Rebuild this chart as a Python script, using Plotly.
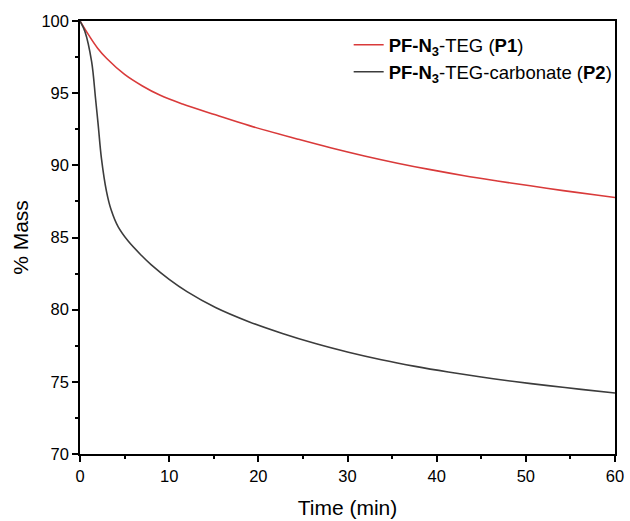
import plotly.graph_objects as go

# Data
t_p1 = [0, 1, 2, 3, 5, 7, 9, 11.5, 15.2, 19, 24.5, 28.2, 31.9, 35.6, 39.3, 43.1, 46.8, 50.5, 54.2, 57.9, 60]
m_p1 = [100, 99.0, 98.1, 97.4, 96.3, 95.5, 94.85, 94.25, 93.5, 92.75, 91.8, 91.2, 90.65, 90.15, 89.7, 89.28, 88.92, 88.58, 88.25, 87.94, 87.77]

t_p2 = [0, 0.56, 1.3, 1.74, 2.04, 2.4, 2.97, 3.5, 4.27, 5.4, 6.9, 8, 10, 12, 15.2, 19, 22.7, 26.4, 30.1, 33.8, 37.6, 41.3, 45, 48.7, 52.5, 56.2, 60]
m_p2 = [100, 99.26, 97.2, 94.65, 92.8, 90.5, 88.2, 86.9, 85.75, 84.75, 83.75, 83.1, 82.1, 81.25, 80.15, 79.15, 78.35, 77.65, 77.05, 76.53, 76.07, 75.68, 75.33, 75.02, 74.74, 74.48, 74.23]

name_p1 = "<b>PF-N<sub>3</sub></b>-TEG (<b>P1</b>)"
name_p2 = "<b>PF-N<sub>3</sub></b>-TEG-carbonate (<b>P2</b>)"

x_ticks = [0, 10, 20, 30, 40, 50, 60]
y_ticks = [70, 75, 80, 85, 90, 95, 100]

font_family = "Liberation Sans, Arial, sans-serif"

fig = go.Figure()
fig.add_trace(go.Scatter(x=t_p1, y=m_p1, mode="lines", name=name_p1,
                         line=dict(color="#d93a3a", width=1.6, shape="spline", smoothing=1.0)))
fig.add_trace(go.Scatter(x=t_p2, y=m_p2, mode="lines", name=name_p2,
                         line=dict(color="#3c3c3c", width=1.6, shape="spline", smoothing=1.0)))

axis_common = dict(showline=True, linecolor="black", linewidth=1.5, mirror=True,
                   ticks="outside", ticklen=6, tickwidth=1.5, tickcolor="black",
                   showgrid=False, zeroline=False, automargin=False,
                   tickfont=dict(size=16.5, color="black", family=font_family),
                   title_font=dict(size=21, color="black", family=font_family))

fig.update_xaxes(range=[0, 60], tickvals=x_ticks, title_text="Time (min)", title_standoff=17,
                 minor=dict(ticks="outside", ticklen=3, tickwidth=1.5, tickcolor="black", dtick=5, tick0=0, showgrid=False),
                 **axis_common)
fig.update_yaxes(range=[70, 100], tickvals=y_ticks, title_text="% Mass", title_standoff=7,
                 minor=dict(ticks="outside", ticklen=3, tickwidth=1.5, tickcolor="black", dtick=2.5, tick0=70, showgrid=False),
                 **axis_common)

fig.update_layout(
    width=630, height=521,
    margin=dict(l=80, r=12, t=21, b=67),
    plot_bgcolor="white", paper_bgcolor="white",
    font=dict(family=font_family, color="black"),
    legend=dict(x=1.005, y=0.988, xanchor="right", yanchor="top",
                bgcolor="rgba(0,0,0,0)", borderwidth=0,
                font=dict(size=18.5, color="black", family=font_family),
                tracegroupgap=0),
    showlegend=True,
)

fig.write_html("out.html", config={"displayModeBar": False},
               post_script="document.body.style.margin='0';")
